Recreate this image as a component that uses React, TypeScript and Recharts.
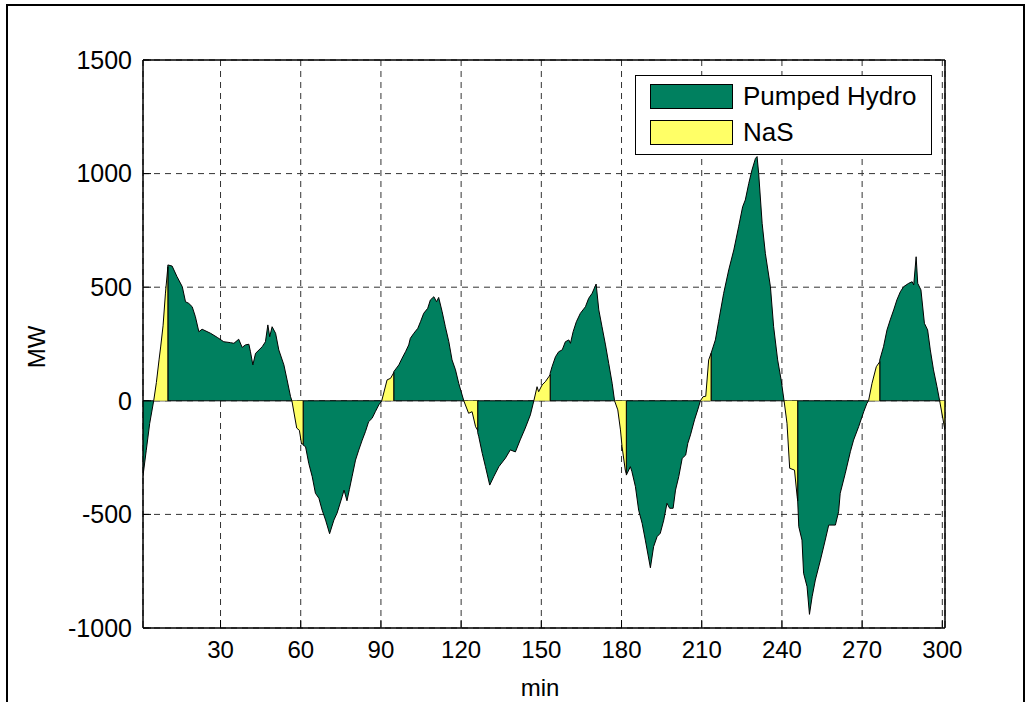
import React from "react";
import {
  ComposedChart,
  Area,
  XAxis,
  YAxis,
  CartesianGrid,
  ReferenceArea,
  Legend,
} from "recharts";

const minuteTicks = [30, 60, 90, 120, 150, 180, 210, 240, 270, 300];
const mwTicks = [-1000, -500, 0, 500, 1000, 1500];

// [minute, MW]; repeated minutes are the hand-overs
const pumpedHydro: [number, number][] = [
  [1, -330], [2.2, -220], [3.5, -100], [5, 0], [10.3, 0], [10.3, 598], [11.9, 593],
  [13.7, 547], [15.7, 502], [16.9, 436], [18.1, 429], [19.4, 414], [20.6, 370],
  [21.9, 304], [23.1, 315], [26.3, 297], [28.8, 279], [31.2, 260], [33.7, 256],
  [35, 253], [36.8, 271], [38.1, 235], [39.3, 246], [40.6, 249], [41.2, 216],
  [42.1, 158], [43.1, 209], [45.6, 238], [46.8, 260], [47.7, 334], [48.4, 282],
  [49.3, 326], [50.6, 297], [51.8, 224], [53.7, 158], [54.9, 92], [56.2, 18],
  [56.7, 0], [60.9, 0], [60.9, -195], [61.8, -202], [63, -275], [64.3, -334],
  [65.5, -407], [66.8, -429], [68, -481], [69.3, -525], [70.8, -585], [72.4, -525],
  [73.6, -494], [75.5, -422], [76.2, -393], [77.3, -440], [78.2, -390], [79.2, -334],
  [80.5, -261], [81.7, -217], [83, -173], [84.2, -136], [85.4, -92], [86.7, -77],
  [87.9, -48], [89.2, -18], [90.3, 0], [94.8, 0], [94.8, 128], [96.7, 158],
  [97.9, 187], [99.2, 216], [100.4, 246], [101, 275], [102.3, 297], [103.8, 319],
  [104.8, 348], [106, 385], [107.5, 407], [108.5, 444], [109.8, 458], [110.8, 436],
  [111.6, 455], [112.9, 392], [114.1, 326], [115.4, 260], [116.6, 180], [117.9, 136],
  [119.1, 77], [121, 0], [126.2, 0], [126.2, -140], [126.6, -158], [127.9, -231],
  [129.1, -290], [130.7, -371], [132.2, -334], [134.1, -290], [136.6, -252],
  [138.4, -216], [140.3, -225], [142.1, -172], [144, -120], [145.9, -62], [147.2, 0],
  [153.3, 0], [153.3, 121], [154, 150], [155.3, 194], [156.5, 216], [157.8, 224],
  [159, 260], [160.3, 268], [160.9, 253], [161.9, 304], [163.1, 348], [164.6, 385],
  [166.5, 414], [167.7, 451], [169, 473], [170.5, 514], [171.5, 400], [172.7, 326],
  [174, 246], [175.2, 165], [176.5, 77], [177.4, 0], [181.8, 0], [181.8, -327],
  [183.3, -290], [183.9, -312], [185.2, -378], [186.4, -481], [187.7, -539],
  [188.9, -613], [190.8, -735], [192, -642], [193.3, -598], [194.5, -583],
  [195.8, -525], [197, -451], [198, -473], [199.3, -473], [200.2, -393], [201.4, -334],
  [202.7, -253], [204, -239], [204.8, -187], [205.8, -150], [207.3, -84], [208.5, -40],
  [209.5, 0], [213.5, 0], [213.5, 209], [215.1, 268], [216.3, 348], [218.2, 473],
  [220.1, 576], [222, 664], [223.8, 766], [225.3, 854], [226.3, 884], [227.6, 957],
  [228.8, 1016], [230.1, 1067], [230.7, 1075], [231.3, 1001], [232.6, 781],
  [233.8, 649], [235.7, 502], [236.9, 326], [238.4, 180], [239.7, 92], [240.8, 0],
  [245.9, 0], [245.9, -440], [246.3, -554], [247.5, -613], [248.1, -759],
  [249.4, -818], [250.3, -940], [251.3, -862], [252.5, -789], [254.4, -701],
  [256.2, -613], [257.5, -547], [260, -547], [261.2, -488], [261.8, -407],
  [263.7, -319], [265.6, -224], [266.8, -173], [268.7, -114], [270.6, -48],
  [271.8, -11], [272.4, 0], [276.6, 0], [276.6, 180], [278, 238], [279.3, 312],
  [280.5, 356], [281.8, 400], [283, 444], [284.3, 480], [285.5, 502], [287.4, 517],
  [288.7, 524], [289.3, 510], [290.2, 634], [290.8, 517], [292, 488], [293.3, 341],
  [294.5, 312], [295.5, 224], [296.7, 136], [298, 62], [299, 0], [301, 0],
];

const nas: [number, number][] = [
  [1, 0], [5, 0], [6, 80], [7, 180], [7.6, 237], [8.5, 330], [9.4, 474], [10.3, 590],
  [10.3, 0], [56.7, 0], [58.5, -120], [59.5, -130], [60.3, -190], [60.9, -190],
  [60.9, 0], [90.3, 0], [92.3, 92], [93.6, 99], [94.8, 124], [94.8, 0], [121, 0],
  [122.8, -55], [124.1, -48], [125.4, -114], [126.2, -130], [126.2, 0], [147.2, 0],
  [148.4, 62], [149, 40], [150.3, 70], [151.5, 84], [152.8, 106], [153.3, 115],
  [153.3, 0], [177.4, 0], [178.6, -40], [179.6, -128], [180.2, -202], [181.4, -305],
  [181.8, -320], [181.8, 0], [209.5, 0], [210.5, 18], [211.5, 20], [212.6, 180],
  [213.5, 209], [213.5, 0], [240.8, 0], [241.9, -99], [242.9, -297], [244.7, -305],
  [245.7, -422], [245.9, -440], [245.9, 0], [272.4, 0], [273.7, 77], [275.3, 150],
  [276.6, 172], [276.6, 0], [299, 0], [301, -130],
];

const seriesNames = ["Pumped Hydro", "NaS"];
const seriesColors = ["#00805f", "#ffff66"];

type Row = { t: number; ph: number | null; nas: number | null };

// stable sort keeps the order of repeated minutes within a series
const rows: Row[] = [
  ...pumpedHydro.map(([t, v]) => ({ t, ph: v, nas: null })),
  ...nas.map(([t, v]) => ({ t, ph: null, nas: v })),
].sort((a, b) => a.t - b.t);

const font = '"Liberation Sans", Arial, Helvetica, sans-serif';

const LegendBox = () => (
  <div
    style={{
      position: "relative",
      width: 297,
      height: 80,
      border: "1px solid #000",
      background: "#fff",
      boxSizing: "border-box",
      fontFamily: font,
      fontSize: 26,
      color: "#000",
    }}
  >
    {seriesNames.map((name, i) => (
      <div key={name}>
        <div
          style={{
            position: "absolute",
            left: 14,
            top: 8 + i * 36,
            width: 83,
            height: 25,
            background: seriesColors[i],
            border: "1px solid #000",
            boxSizing: "border-box",
          }}
        />
        <div
          style={{
            position: "absolute",
            left: 107,
            top: 4 + i * 36,
            lineHeight: "32px",
            whiteSpace: "nowrap",
          }}
        >
          {name}
        </div>
      </div>
    ))}
  </div>
);

export default function App() {
  const tickStyle = { fill: "#000", fontSize: 24, fontFamily: font };

  return (
    <div
      style={{
        position: "absolute",
        left: 0,
        top: 0,
        width: 1031,
        height: 702,
        background: "#fff",
        overflow: "hidden",
      }}
    >
      {/* figure frame */}
      <div
        style={{
          position: "absolute",
          left: 6,
          top: 4,
          width: 1019,
          height: 740,
          border: "2px solid #000",
          boxSizing: "border-box",
        }}
      />
      <ComposedChart
        width={1031}
        height={702}
        data={rows}
        margin={{ top: 59, right: 85, bottom: 34, left: 83 }}
        style={{ position: "absolute", left: 0, top: 0 }}
      >
        <CartesianGrid stroke="#333" strokeDasharray="6 5" />
        <XAxis
          dataKey="t"
          type="number"
          domain={[1, 301]}
          allowDataOverflow
          ticks={minuteTicks}
          height={40}
          tickSize={-8}
          tickMargin={21}
          tick={tickStyle}
          stroke="#000"
          label={{
            content: () => (
              <text x={540} y={696} textAnchor="middle" fontSize={24} fontFamily={font} fill="#000">
                min
              </text>
            ),
          }}
        />
        <XAxis
          xAxisId="top"
          orientation="top"
          dataKey="t"
          type="number"
          domain={[1, 301]}
          allowDataOverflow
          ticks={minuteTicks}
          height={1}
          tickSize={-8}
          tick={false}
          stroke="#000"
        />
        <YAxis
          type="number"
          domain={[-1000, 1500]}
          allowDataOverflow
          ticks={mwTicks}
          width={60}
          tickSize={-8}
          tickMargin={19}
          tick={{ ...tickStyle, fontSize: 25 }}
          stroke="#000"
          label={{
            content: () => (
              <text
                x={45}
                y={347}
                transform="rotate(-90 45 347)"
                textAnchor="middle"
                fontSize={24}
                fontFamily={font}
                fill="#000"
              >
                MW
              </text>
            ),
          }}
        />
        <YAxis
          yAxisId="right"
          orientation="right"
          type="number"
          domain={[-1000, 1500]}
          allowDataOverflow
          ticks={mwTicks}
          width={1}
          tickSize={-8}
          tick={false}
          stroke="#000"
        />
        <Area
          type="linear"
          dataKey="ph"
          name={seriesNames[0]}
          baseValue={0}
          connectNulls
          fill={seriesColors[0]}
          fillOpacity={1}
          stroke="#000"
          strokeWidth={1}
          dot={false}
          activeDot={false}
          isAnimationActive={false}
        />
        <Area
          type="linear"
          dataKey="nas"
          name={seriesNames[1]}
          baseValue={0}
          connectNulls
          fill={seriesColors[1]}
          fillOpacity={1}
          stroke="#000"
          strokeWidth={1}
          dot={false}
          activeDot={false}
          isAnimationActive={false}
        />
        <ReferenceArea
          x1={1}
          x2={301}
          y1={-1000}
          y2={1500}
          fill="none"
          stroke="#000"
          strokeWidth={1}
        />
        <Legend
          layout="vertical"
          align="center"
          verticalAlign="middle"
          content={<LegendBox />}
          wrapperStyle={{ left: 635, top: 75, width: 297, height: 80 }}
        />
      </ComposedChart>
    </div>
  );
}
